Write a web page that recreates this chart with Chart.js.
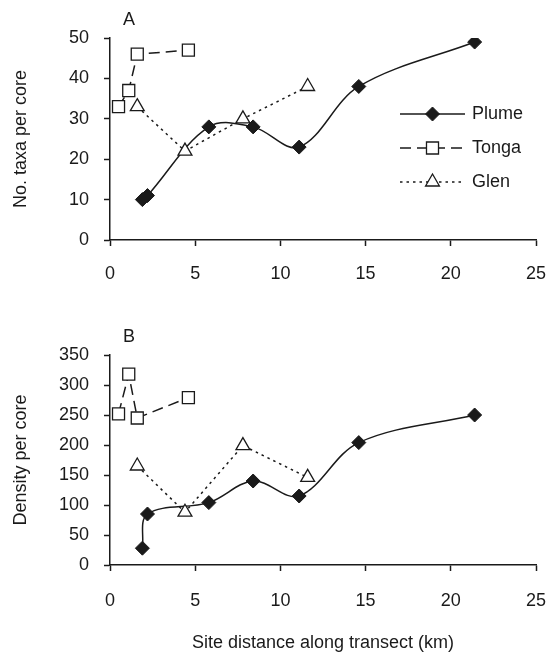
<!DOCTYPE html>
<html>
<head>
<meta charset="utf-8">
<script src="https://cdn.jsdelivr.net/npm/chart.js@4.4.1/dist/chart.umd.min.js"></script>
<style>
  html, body { margin: 0; padding: 0; background: #fff; }
  #wrap { position: relative; width: 546px; height: 652px; }
  #taxa { position: absolute; left: 0; top: 0; }
  #density { position: absolute; left: 0; top: 300px; }
</style>
</head>
<body>
<div id="wrap">
  <canvas id="taxa" width="546" height="300"></canvas>
  <canvas id="density" width="546" height="352"></canvas>
</div>
<script>
// site distances (km) per transect
const plumeDist = [1.9, 2.2, 5.8, 8.4, 11.1, 14.6, 21.4];
const tongaDist = [0.5, 1.1, 1.6, 4.6];
const glenDist = [1.6, 4.4, 7.8, 11.6];

// panel A: no. taxa per core
const plumeTaxa = [10, 11, 28, 28, 23, 38, 49];
const tongaTaxa = [33, 37, 46, 47];
const glenTaxa = [33, 22, 30, 38];

// panel B: density per core
const plumeDensity = [28, 85, 104, 140, 115, 204, 250];
const tongaDensity = [252, 318, 245, 279];
const glenDensity = [165, 88, 199, 146];

const distTicks = [0, 5, 10, 15, 20, 25];
const taxaTicks = [0, 10, 20, 30, 40, 50];
const densityTicks = [0, 50, 100, 150, 200, 250, 300, 350];

const ink = "#1a1a1a";
const fontFamily = '"Liberation Sans", Arial, sans-serif';
Chart.defaults.font.family = fontFamily;
Chart.defaults.font.size = 18;
Chart.defaults.color = ink;

const pts = (xs, ys) => xs.map((x, i) => ({ x: x, y: ys[i] }));

function makeSets(plume, tonga, glen) {
    return [
        {
            label: "Plume", data: pts(plumeDist, plume), order: 3,
            borderColor: ink, borderWidth: 1.5, borderDash: [], tension: 0.35,
            pointStyle: "rectRot", pointRadius: 7, pointBackgroundColor: ink,
            pointBorderColor: ink, pointBorderWidth: 1
        },
        {
            label: "Tonga", data: pts(tongaDist, tonga), order: 2,
            borderColor: ink, borderWidth: 1.5, borderDash: [11, 6], tension: 0,
            pointStyle: "rect", pointRadius: 8.5, pointBackgroundColor: "#fff",
            pointBorderColor: ink, pointBorderWidth: 1.3
        },
        {
            label: "Glen", data: pts(glenDist, glen), order: 1,
            borderColor: ink, borderWidth: 1.5, borderDash: [2.5, 4], tension: 0,
            pointStyle: "triangle", pointRadius: 8, pointBackgroundColor: "#fff",
            pointBorderColor: ink, pointBorderWidth: 1.3
        }
    ];
}

// legend drawn inside the plot area, line sample with marker in the middle
const insideLegend = {
    id: "insideLegend",
    afterDraw(chart, args, opts) {
        if (!opts.show) return;
        const ctx = chart.ctx, area = chart.chartArea;
        chart.data.datasets.forEach((ds, i) => {
            const y = area.top + 76 + i * 34;
            const x0 = area.right - 136, x1 = area.right - 71;
            ctx.save();
            ctx.strokeStyle = ink;
            ctx.lineWidth = ds.borderWidth;
            ctx.setLineDash(ds.borderDash);
            ctx.beginPath();
            ctx.moveTo(x0, y);
            ctx.lineTo(x1, y);
            ctx.stroke();
            ctx.setLineDash([]);
            ctx.fillStyle = ds.pointBackgroundColor;
            ctx.strokeStyle = ds.pointBorderColor;
            ctx.lineWidth = ds.pointBorderWidth;
            Chart.helpers.drawPoint(ctx, {
                pointStyle: ds.pointStyle, radius: ds.pointRadius,
                rotation: 0, borderWidth: ds.pointBorderWidth
            }, (x0 + x1) / 2, y);
            ctx.fillStyle = ink;
            ctx.font = "18px " + fontFamily;
            ctx.textBaseline = "middle";
            ctx.textAlign = "left";
            ctx.fillText(ds.label, area.right - 64, y);
            ctx.restore();
        });
    }
};

// panel letter (A / B) above the top-left of the plot
const panelLetter = {
    id: "panelLetter",
    afterDraw(chart, args, opts) {
        const ctx = chart.ctx, area = chart.chartArea;
        ctx.save();
        ctx.fillStyle = ink;
        ctx.font = "18px " + fontFamily;
        ctx.textAlign = "center";
        ctx.textBaseline = "middle";
        ctx.fillText(opts.text, area.left + 19, area.top - 18);
        ctx.restore();
    }
};

function axis(tickValues, pad, extra) {
    return Object.assign({
        type: "linear",
        min: tickValues[0],
        max: tickValues[tickValues.length - 1],
        afterBuildTicks: s => { s.ticks = tickValues.map(v => ({ value: v })); },
        ticks: { padding: pad, color: ink, autoSkip: false, maxRotation: 0 },
        grid: { drawOnChartArea: false, drawTicks: true, tickLength: 6, color: ink, tickColor: ink, tickWidth: 1.5 },
        border: { display: true, color: ink, width: 1.5 }
    }, extra);
}

function makeChart(id, sets, yTicks, yTitle, letter, opt) {
    return new Chart(document.getElementById(id), {
        type: "line",
        data: { datasets: sets },
        options: {
            responsive: false,
            animation: false,
            events: [],
            layout: { padding: { top: opt.padTop, right: 10, left: 0, bottom: 0 } },
            plugins: {
                legend: { display: false },
                tooltip: { enabled: false },
                insideLegend: { show: opt.legend },
                panelLetter: { text: letter }
            },
            scales: {
                x: axis(distTicks, opt.xPad, {
                    title: opt.xTitle
                        ? { display: true, text: opt.xTitle, color: ink, font: { lineHeight: 1 }, padding: { top: 0, bottom: 0 } }
                        : { display: false },
                    afterFit: s => { s.height = opt.xHeight; s.paddingRight = 0; s.paddingLeft = 0; }
                }),
                y: axis(yTicks, 15, {
                    title: { display: true, text: yTitle, color: ink, padding: { top: 10, bottom: 0 } },
                    afterFit: s => { s.width = 110; }
                })
            }
        },
        plugins: [insideLegend, panelLetter]
    });
}

makeChart("taxa", makeSets(plumeTaxa, tongaTaxa, glenTaxa), taxaTicks,
    "No. taxa per core", "A", { padTop: 38, xHeight: 60, xPad: 17, legend: true });

makeChart("density", makeSets(plumeDensity, tongaDensity, glenDensity), densityTicks,
    "Density per core", "B",
    { padTop: 55, xHeight: 87, xPad: 19, legend: false, xTitle: "Site distance along transect (km)" });
</script>
</body>
</html>
